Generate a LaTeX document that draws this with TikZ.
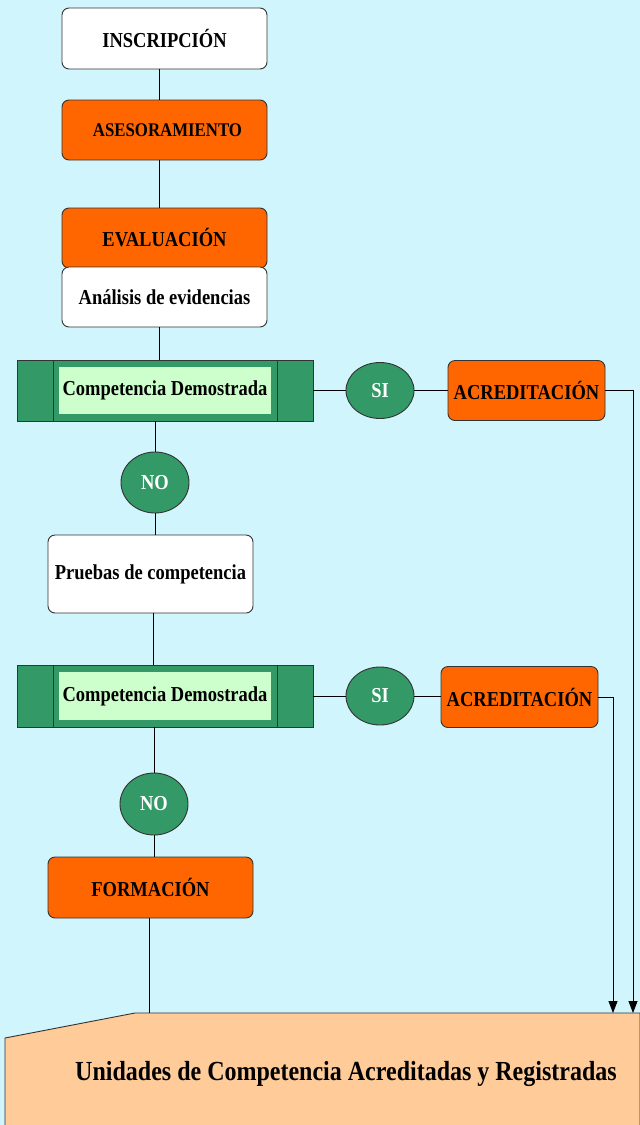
\documentclass[tikz,border=0pt]{standalone}
\usepackage{fontspec}
\usepackage{graphicx}
\setmainfont{Liberation Serif}
\usetikzlibrary{shapes.geometric,arrows.meta}
\definecolor{bgc}{RGB}{208,245,253}
\definecolor{orng}{HTML}{FF6600}
\definecolor{grn}{HTML}{339966}
\definecolor{lgrn}{HTML}{CCFFCC}
\definecolor{peach}{HTML}{FFCC99}
\definecolor{edge}{HTML}{333333}
\newcommand\vs[1]{\raisebox{-1.5pt}{\scalebox{1}[1.15]{#1}}}
\tikzset{
  lbl/.style={font=\bfseries\fontsize{18.5}{20}\selectfont},
  box/.style={lbl,draw=edge,line width=0.9pt,rounded corners=7pt,inner sep=2pt},
  wbox/.style={box,fill=white},
  obox/.style={box,fill=orng},
  compbox/.style={draw=edge,line width=0.9pt,fill=grn,minimum width=296pt,minimum height=61pt},
  innerbox/.style={lbl,fill=lgrn,minimum width=212pt,minimum height=47pt,inner sep=0pt},
  oval/.style={lbl,ellipse,draw=edge,line width=0.9pt,fill=grn,text=white,inner sep=0pt},
  conn/.style={draw=black,line width=0.8pt},
  arr/.style={conn,-{Triangle[width=9pt,length=12pt]}}
}
\begin{document}
\begin{tikzpicture}[x=1pt,y=-1pt]
\useasboundingbox (0,0) rectangle (640,1125);
\fill[bgc] (0,0) rectangle (640,1125);

% bottom shape
\draw[draw=edge,line width=0.9pt,fill=peach] (5,1125) -- (5,1038) -- (135,1013) -- (640,1013) -- (640,1125);
\node[font=\bfseries\fontsize{24}{26}\selectfont] (uni) at (346,1074) {\vs{Unidades de Competencia Acreditadas y Registradas}};
\coordinate (t1) at (633,1013);
\coordinate (t2) at (613,1013);
\coordinate (t0) at (149,1013);
\coordinate (xm) at (159,0);

% main column
\node[wbox,minimum width=205pt,minimum height=61pt] (ins) at (164.5,38.5) {\vs{INSCRIPCIÓN}};
\node[obox,minimum width=205pt,minimum height=60pt,font=\bfseries\fontsize{16.8}{18}\selectfont] (ase) at (164.5,130) {\hspace{6pt}\vs{ASESORAMIENTO}};
\node[obox,minimum width=205pt,minimum height=60pt] (eva) at (164.5,238) {\vs{EVALUACIÓN}};
\node[wbox,minimum width=205pt,minimum height=60pt] (ana) at (164.5,297) {\vs{Análisis de evidencias}};

% competencia 1
\node[compbox] (c1) at (165,390.5) {};
\draw[edge,line width=0.9pt] (53,360) -- (53,421) (277,360) -- (277,421);
\node[innerbox] (c1t) at (165,390.5) {\vs{Competencia Demostrada}};
\node[oval,minimum width=68pt,minimum height=56pt] (si1) at (380,390.5) {\vs{SI}};
\node[obox,minimum width=157pt,minimum height=60pt] (ac1) at (526.5,390.5) {\vs{ACREDITACIÓN}};
\node[oval,minimum width=68pt,minimum height=61pt] (no1) at (155,482.5) {\vs{NO}};

\node[wbox,minimum width=205pt,minimum height=78pt] (pru) at (150.5,574) {\vs{Pruebas de competencia}};

% competencia 2
\node[compbox,minimum height=62pt] (c2) at (165,696) {};
\draw[edge,line width=0.9pt] (53,665) -- (53,727) (277,665) -- (277,727);
\node[innerbox,minimum height=48pt] (c2t) at (165,696) {\vs{Competencia Demostrada}};
\node[oval,minimum width=68pt,minimum height=58pt] (si2) at (380,696) {\vs{SI}};
\node[obox,minimum width=157pt,minimum height=61pt] (ac2) at (519.5,697) {\vs{ACREDITACIÓN}};
\node[oval,minimum width=68pt,minimum height=62pt] (no2) at (154,804) {\vs{NO}};

\node[obox,minimum width=205pt,minimum height=61pt] (for) at (150.5,887.5) {\vs{FORMACIÓN}};

% connectors
\draw[conn] (ins.south -| xm) -- (ase.north -| xm);
\draw[conn] (ase.south -| xm) -- (eva.north -| xm);
\draw[conn] (ana.south -| xm) -- (c1.north -| xm);
\draw[conn] (c1.east) -- (si1.west);
\draw[conn] (si1.east) -- (ac1.west);
\draw[arr] (ac1.east) -| (t1);
\draw[conn] (no1.north |- c1.south) -- (no1.north);
\draw[conn] (no1.south) -- (no1.south |- pru.north);
\draw[conn] ([xshift=2.5pt]pru.south) -- ([xshift=-12pt]c2.north);
\draw[conn] (c2.east) -- (si2.west);
\draw[conn] (si2.east) -- (si2.east -| ac2.west);
\draw[arr] (ac2.east) -| (t2);
\draw[conn] (no2.north |- c2.south) -- (no2.north);
\draw[conn] (no2.south) -- (no2.south |- for.north);
\draw[conn] (for.south -| t0) -- (t0);
\end{tikzpicture}
\end{document}
